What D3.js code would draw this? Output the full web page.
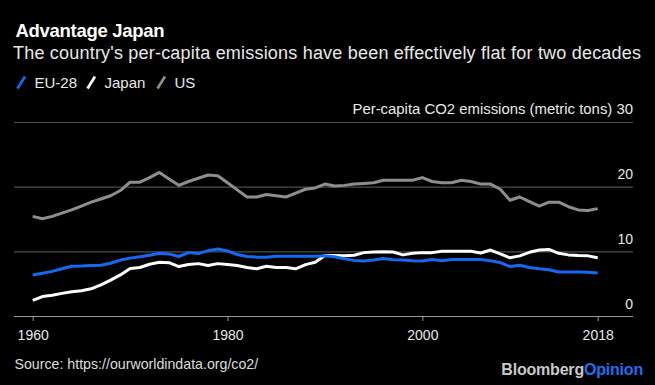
<!DOCTYPE html>
<html>
<head>
<meta charset="utf-8">
<script src="https://cdn.jsdelivr.net/npm/d3@7"></script>
<style>
  body { margin: 0; background: #000; }
  text { font-family: "Liberation Sans", Arial, sans-serif; }
</style>
</head>
<body>
<div id="chart"></div>
<script>
// data (metric tons per capita)
const years = d3.range(1960, 2019);
const eu28 = [6.34, 6.6, 6.9, 7.3, 7.7, 7.73, 7.8, 7.85, 8.15, 8.65,
              8.95, 9.15, 9.4, 9.7, 9.6, 9.2, 9.8, 9.65, 10.1, 10.35,
              10.05, 9.5, 9.2, 9.1, 9.1, 9.25, 9.25, 9.25, 9.25, 9.25,
              9.3, 9.15, 8.85, 8.6, 8.5, 8.65, 8.9, 8.7, 8.65, 8.55,
              8.5, 8.75, 8.55, 8.75, 8.75, 8.75, 8.75, 8.55, 8.25, 7.65,
              7.85, 7.5, 7.3, 7.15, 6.8, 6.8, 6.8, 6.75, 6.65];
const japan = [2.4, 3.0, 3.2, 3.5, 3.75, 3.9, 4.2, 4.8, 5.55, 6.35,
               7.35, 7.5, 8.0, 8.3, 8.25, 7.65, 7.95, 8.1, 7.8, 8.1,
               7.95, 7.8, 7.5, 7.3, 7.7, 7.5, 7.5, 7.3, 7.95, 8.3,
               9.35, 9.35, 9.3, 9.4, 9.8, 9.9, 9.95, 9.9, 9.45, 9.7,
               9.8, 9.8, 10.0, 10.0, 10.0, 10.0, 9.75, 10.2, 9.6, 9.0,
               9.3, 9.85, 10.2, 10.3, 9.7, 9.45, 9.35, 9.3, 9.0];
const us = [15.4, 15.05, 15.4, 15.9, 16.4, 17.0, 17.6, 18.1, 18.6, 19.4,
            20.7, 20.7, 21.4, 22.2, 21.2, 20.2, 20.8, 21.3, 21.8, 21.7,
            20.6, 19.5, 18.4, 18.4, 18.8, 18.6, 18.4, 19.0, 19.6, 19.8,
            20.4, 20.1, 20.2, 20.4, 20.5, 20.6, 21.0, 21.0, 21.0, 21.0,
            21.4, 20.8, 20.6, 20.6, 21.0, 20.8, 20.4, 20.4, 19.6, 17.9,
            18.4, 17.7, 17.0, 17.6, 17.6, 16.9, 16.4, 16.3, 16.6];
const seriesNames = ["EU-28", "Japan", "US"];
const seriesColors = ["#1569f0", "#ffffff", "#8e8e8e"];
const yTicks = [0, 10, 20, 30];
const xTicks = [1960, 1980, 2000, 2018];

const width = 655, height = 385;
const svg = d3.select("#chart")
              .append("svg")
              .attr("width", width)
              .attr("height", height)
              .style("background", "#000");

// scales
const x = d3.scaleLinear().domain([1960, 2018]).range([32.7, 597.7]);
const y = d3.scaleLinear().domain([0, 30]).range([316, 122]);

// title + subtitle (reference font is wider than Arial, so stretch spacing)
svg.append("text")
   .attr("x", 15.5).attr("y", 36.7)
   .attr("textLength", 149).attr("lengthAdjust", "spacing")
   .style("font-size", "18.5px").style("font-weight", "bold")
   .style("fill", "#fff")
   .text("Advantage Japan");
svg.append("text")
   .attr("x", 13).attr("y", 59)
   .attr("textLength", 628).attr("lengthAdjust", "spacing")
   .style("font-size", "18px")
   .style("fill", "#e8e8e8")
   .text("The country's per-capita emissions have been effectively flat for two decades");

// legend with slanted swatches
const legendX = [17, 87, 157];
const legend = svg.append("g")
                  .selectAll("g")
                  .data(seriesNames)
                  .enter()
                  .append("g")
                  .attr("transform", (d, i) => `translate(${legendX[i]},0)`);
legend.append("line")
      .attr("x1", 0.5).attr("y1", 88.5)
      .attr("x2", 8).attr("y2", 76.5)
      .style("stroke", (d, i) => seriesColors[i])
      .style("stroke-width", 2.8);
legend.append("text")
      .attr("x", 17.5).attr("y", 88.3)
      .style("font-size", "15px")
      .style("fill", "#e8e8e8")
      .text(d => d);

// gridlines + right axis labels
const yAxis = d3.axisRight(y)
                .tickValues(yTicks)
                .tickSize(619)
                .tickFormat(d => d === 30 ? "Per-capita CO2 emissions (metric tons) 30" : d);
const gy = svg.append("g")
              .attr("transform", "translate(14,0)")
              .call(yAxis);
gy.select(".domain").remove();
gy.selectAll(".tick line")
  .style("stroke", (d) => d === 0 ? "#9a9a9a" : "#4d4d4d")
  .style("stroke-width", 1.2);
gy.selectAll(".tick text")
  .attr("x", 619).attr("dy", "-0.55em")
  .style("text-anchor", "end")
  .style("font-size", d => d === 30 ? "14.9px" : "14px")
  .style("font-family", "'Liberation Sans', Arial, sans-serif")
  .style("fill", "#e8e8e8");

// bottom axis ticks
const xAxis = d3.axisBottom(x)
                .tickValues(xTicks)
                .tickSize(5)
                .tickPadding(9)
                .tickFormat(d3.format("d"));
const gx = svg.append("g")
              .attr("transform", "translate(0,316)")
              .call(xAxis);
gx.select(".domain").remove();
gx.selectAll(".tick line").style("stroke", "#9a9a9a");
gx.selectAll(".tick text")
  .style("font-size", "14px")
  .style("font-family", "'Liberation Sans', Arial, sans-serif")
  .style("fill", "#e8e8e8");

// lines
const lineGen = d3.line()
                  .x((d, i) => x(years[i]))
                  .y(d => y(d));
const allSeries = [us, japan, eu28];
const allColors = [seriesColors[2], seriesColors[1], seriesColors[0]];
svg.append("g")
   .selectAll("path")
   .data(allSeries)
   .enter()
   .append("path")
   .attr("d", lineGen)
   .style("fill", "none")
   .style("stroke", (d, i) => allColors[i])
   .style("stroke-width", 3)
   .style("stroke-linejoin", "round");

// source
svg.append("text")
   .attr("x", 14.5).attr("y", 369)
   .style("font-size", "14.2px")
   .style("fill", "#dcdcdc")
   .text("Source: https://ourworldindata.org/co2/");

// branding
const brand = svg.append("text")
                 .attr("x", 643).attr("y", 375)
                 .style("text-anchor", "end")
                 .style("font-size", "16px")
                 .style("font-weight", "bold")
                 .style("letter-spacing", "-0.2px");
brand.append("tspan").style("fill", "#c9c9c9").text("Bloomberg");
brand.append("tspan").style("fill", "#1a6ff2").text("Opinion");
</script>
</body>
</html>
